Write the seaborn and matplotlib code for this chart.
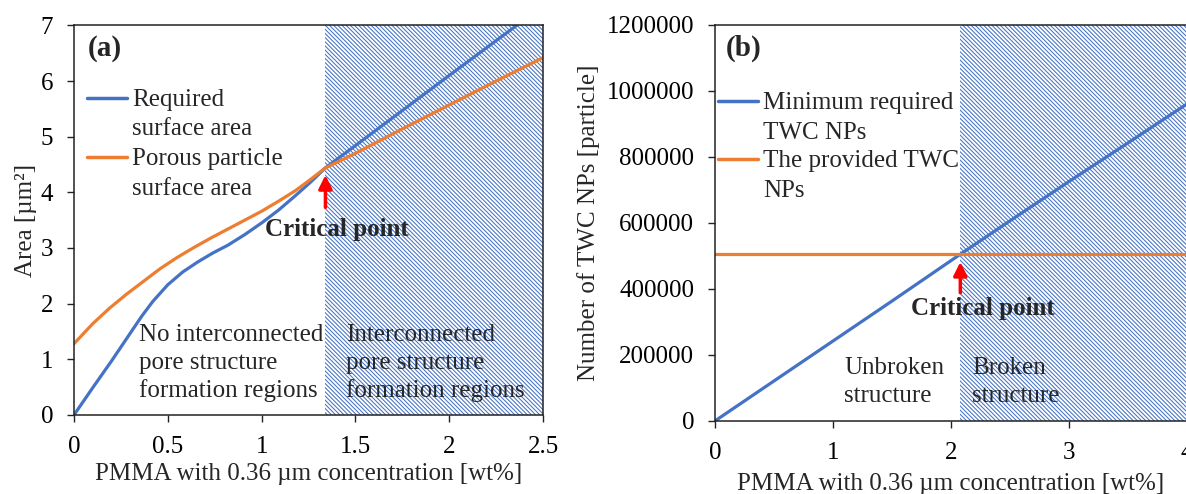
import numpy as np
import pandas as pd
import matplotlib
matplotlib.use('Agg')
import matplotlib.pyplot as plt
import seaborn as sns

# panel (a): surface area vs PMMA concentration
conc_a = [0, 0.1, 0.2, 0.3, 0.36, 0.42, 0.5, 0.58, 0.66, 0.74, 0.82, 0.91, 1.0, 1.09, 1.18, 1.26, 1.34, 1.5, 2.0, 2.36]
required_area = [0, 0.49, 0.97, 1.47, 1.77, 2.04, 2.34, 2.57, 2.75, 2.91, 3.05, 3.24, 3.45, 3.68, 3.94, 4.18, 4.44, 4.84, 6.10, 7.0]
conc_a_orange = [0, 0.1, 0.19, 0.28, 0.37, 0.46, 0.55, 0.64, 0.73, 0.82, 0.91, 1.0, 1.09, 1.18, 1.26, 1.34, 1.5, 1.75, 2.0, 2.25, 2.5]
porous_area = [1.28, 1.64, 1.92, 2.17, 2.40, 2.63, 2.83, 3.01, 3.18, 3.34, 3.50, 3.66, 3.84, 4.03, 4.23, 4.44, 4.70, 5.14, 5.57, 6.0, 6.42]
critical_a = 1.34

# panel (b): number of TWC NPs
conc_b = [0, 0.5, 1.0, 1.5, 2.08, 2.5, 3.0, 3.5, 4.0]
required_nps = [0, 121000, 242000, 363000, 505000, 606000, 725000, 842000, 960000]
provided_nps = [505000] * len(conc_b)
critical_b = 2.08

BLUE = '#4472C4'
ORANGE = '#ED7D31'

sns.set_theme(style='ticks')
plt.rcParams['font.family'] = ['Liberation Serif', 'DejaVu Serif']
plt.rcParams['hatch.linewidth'] = 0.75
plt.rcParams['hatch.color'] = BLUE
plt.rcParams['axes.edgecolor'] = '#222222'
plt.rcParams['axes.linewidth'] = 1.1
FS = 18
LS = 1.33
HATCH = '\\' * 8

df_a = pd.concat([
    pd.DataFrame({'x': conc_a, 'y': required_area, 'series': 'Required\nsurface area'}),
    pd.DataFrame({'x': conc_a_orange, 'y': porous_area, 'series': 'Porous particle\nsurface area'}),
])
df_b = pd.concat([
    pd.DataFrame({'x': conc_b, 'y': required_nps, 'series': 'Minimum required\nTWC NPs'}),
    pd.DataFrame({'x': conc_b, 'y': provided_nps, 'series': 'The provided TWC\nNPs'}),
])

fig = plt.figure(figsize=(11.86, 4.94), dpi=100)
ax1 = fig.add_axes([0.0624, 0.160, 0.3955, 0.7887])
ax2 = fig.add_axes([0.6029, 0.148, 0.3977, 0.8016])


def style_axis(ax):
    ax.tick_params(direction='out', length=5, width=1, pad=10, labelsize=FS,
                   colors='#222222', labelcolor='black')
    for s in ax.spines.values():
        s.set_visible(True)


def fix_legend(ax, anchor, spacing):
    leg = ax.legend(loc='upper left', bbox_to_anchor=anchor, frameon=False, fontsize=FS,
                    handlelength=1.6, handletextpad=0.2, labelspacing=spacing,
                    borderpad=0, borderaxespad=0)
    for line in leg.get_lines():
        line.set_linewidth(2.5)
    for t in leg.get_texts():
        t.set_linespacing(1.45)
    # put the line next to the first row of each label
    for col in leg._legend_handle_box.get_children():
        for row in col.get_children():
            row.align = 'top'
    return leg


# (a)
ax1.axvspan(critical_a, 2.5, facecolor='none', edgecolor=BLUE, hatch=HATCH, linewidth=0)
sns.lineplot(data=df_a, x='x', y='y', hue='series', palette=[BLUE, ORANGE],
             sort=False, estimator=None, linewidth=2.3, ax=ax1)
ax1.set_xlim(0, 2.5)
ax1.set_ylim(0, 7)
ax1.set_xticks([0, 0.5, 1, 1.5, 2, 2.5])
ax1.set_xticklabels(['0', '0.5', '1', '1.5', '2', '2.5'])
ax1.set_yticks(range(0, 8))
ax1.set_xlabel('PMMA with 0.36 µm concentration [wt%]', fontsize=FS, labelpad=4)
ax1.set_ylabel('Area [µm²]', fontsize=FS, labelpad=3)
style_axis(ax1)
fix_legend(ax1, (0.028, 0.837), 0.32)
ax1.text(0.03, 0.975, '(a)', transform=ax1.transAxes, fontsize=21, fontweight='bold', va='top')
ax1.annotate('', xy=(critical_a, 4.36), xytext=(critical_a, 3.68),
             arrowprops=dict(arrowstyle='-|>', color='red', lw=2.5, mutation_scale=20))
ax1.text(1.40, 3.34, 'Critical point', fontsize=FS, fontweight='bold', ha='center', va='center')
ax1.text(0.344, 0.93, 'No interconnected\npore structure\nformation regions', fontsize=FS,
         ha='left', va='center', linespacing=LS)
ax1.text(1.448, 0.93, 'Interconnected\npore structure\nformation regions', fontsize=FS,
         ha='left', va='center', linespacing=LS)

# (b)
ax2.axvspan(critical_b, 4.0, facecolor='none', edgecolor=BLUE, hatch=HATCH, linewidth=0)
sns.lineplot(data=df_b, x='x', y='y', hue='series', palette=[BLUE, ORANGE],
             sort=False, estimator=None, linewidth=2.3, ax=ax2)
ax2.set_xlim(0, 4)
ax2.set_ylim(0, 1200000)
ax2.set_xticks([0, 1, 2, 3, 4])
ax2.set_yticks(range(0, 1200001, 200000))
ax2.yaxis.set_major_formatter(matplotlib.ticker.FuncFormatter(lambda v, p: f'{int(v)}'))
ax2.set_xlabel('PMMA with 0.36 µm concentration [wt%]', fontsize=FS, labelpad=7)
ax2.set_ylabel('Number of TWC NPs [particle]', fontsize=FS, labelpad=5)
style_axis(ax2)
fix_legend(ax2, (0.006, 0.83), 0.26)
ax2.text(0.022, 0.975, '(b)', transform=ax2.transAxes, fontsize=21, fontweight='bold', va='top')
ax2.annotate('', xy=(critical_b, 490000), xytext=(critical_b, 380000),
             arrowprops=dict(arrowstyle='-|>', color='red', lw=2.5, mutation_scale=20))
ax2.text(2.27, 342000, 'Critical point', fontsize=FS, fontweight='bold', ha='center', va='center')
ax2.text(1.097, 117000, 'Unbroken\nstructure', fontsize=FS, ha='left', va='center', linespacing=LS)
ax2.text(2.177, 117000, 'Broken\nstructure', fontsize=FS, ha='left', va='center', linespacing=LS)

fig.savefig('out.png', dpi=100)
